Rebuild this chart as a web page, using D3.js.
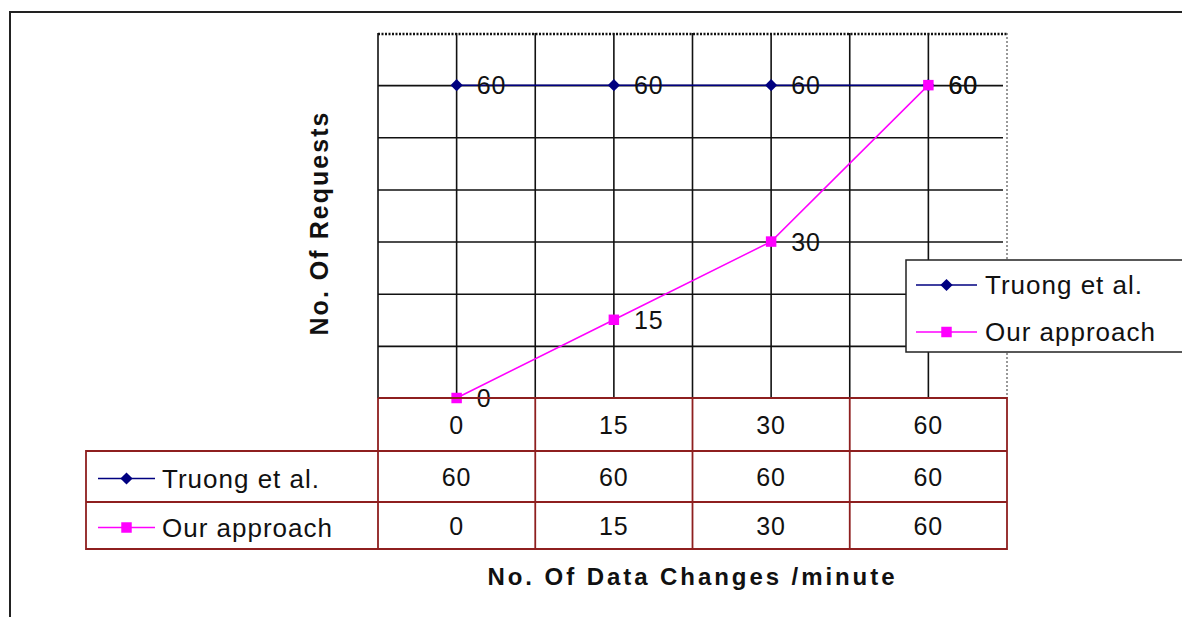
<!DOCTYPE html>
<html>
<head>
<meta charset="utf-8">
<script src="https://cdn.jsdelivr.net/npm/d3@7"></script>
<style>
  body { margin: 0; background: #fff; }
  text { font-family: "Liberation Sans", Arial, sans-serif; fill: #111; }
</style>
</head>
<body>
<div id="chart"></div>
<script>
// values
var categories = ["0", "15", "30", "60"];
var truongValues = [60, 60, 60, 60];
var ourValues = [0, 15, 30, 60];
var seriesNames = ["Truong et al.", "Our approach"];
var gridValues = [0, 10, 20, 30, 40, 50, 60, 70];

var W = 1182, H = 617;
var pLeft = 378, pRight = 1007, pTop = 33, pBottom = 398;
var rowH = [53, 51, 47];
var tableLeft = 86;
var red = "#8e1f1f";
var navy = "#000080", pink = "#ff00ff";

var svg = d3.select("#chart").append("svg")
  .attr("width", W).attr("height", H);

// outer frame
svg.append("path")
  .attr("d", "M10," + H + "V12H" + W)
  .attr("fill", "none").attr("stroke", "#222").attr("stroke-width", 2);

var x = d3.scaleBand().domain(categories).range([pLeft, pRight]);
var y = d3.scaleLinear().domain([0, 70]).range([pBottom, pTop]);
var cx = function(d) { return x(d) + x.bandwidth() / 2; };

// horizontal grid
svg.append("g")
  .attr("transform", "translate(" + pLeft + ",0)")
  .call(d3.axisLeft(y).tickValues(gridValues.slice(1, -1)).tickSize(-(pRight - pLeft - 4)).tickFormat(""))
  .call(function(g) {
    g.select(".domain").remove();
    g.selectAll("line").attr("stroke", "#111").attr("stroke-width", 1.6);
  });

// vertical grid: band edges and centres
var vx = [];
categories.forEach(function(c, i) { if (i > 0) vx.push(x(c)); vx.push(cx(c)); });
svg.append("g").selectAll("line").data(vx).join("line")
  .attr("x1", function(d) { return d; }).attr("x2", function(d) { return d; })
  .attr("y1", pTop).attr("y2", pBottom)
  .attr("stroke", "#111").attr("stroke-width", 1.6);

// plot frame
svg.append("line").attr("x1", pLeft).attr("x2", pLeft).attr("y1", pTop).attr("y2", pBottom)
  .attr("stroke", "#111").attr("stroke-width", 1.6);
svg.append("line").attr("x1", pLeft).attr("x2", pRight).attr("y1", pTop + 1).attr("y2", pTop + 1)
  .attr("stroke", "#111").attr("stroke-width", 2.5).attr("stroke-dasharray", "2,1.5");
svg.append("line").attr("x1", pRight).attr("x2", pRight).attr("y1", pTop).attr("y2", pBottom)
  .attr("stroke", "#555").attr("stroke-width", 1.2).attr("stroke-dasharray", "2,2");

// series
var series = [
  { name: seriesNames[0], values: truongValues, color: navy, shape: d3.symbolSquare, size: 75, rot: 45 },
  { name: seriesNames[1], values: ourValues, color: pink, shape: d3.symbolSquare, size: 110, rot: 0 }
];

var line = d3.line()
  .x(function(d, i) { return cx(categories[i]); })
  .y(function(d) { return y(d); });

series.forEach(function(s) {
  svg.append("path").datum(s.values)
    .attr("d", line).attr("fill", "none")
    .attr("stroke", s.color).attr("stroke-width", 1.5);
});
series.forEach(function(s) {
  svg.append("g").selectAll("path").data(s.values).join("path")
    .attr("transform", function(d, i) {
      return "translate(" + cx(categories[i]) + "," + y(d) + ") rotate(" + s.rot + ")";
    })
    .attr("d", d3.symbol().type(s.shape).size(s.size))
    .attr("fill", s.color);
  svg.append("g").selectAll("text").data(s.values).join("text")
    .attr("x", function(d, i) { return cx(categories[i]) + 20; })
    .attr("y", function(d) { return y(d) + 9; })
    .attr("font-size", 25).attr("letter-spacing", 1)
    .text(function(d) { return d; });
});

// data table
var tTop = pBottom, r1 = pBottom + rowH[0], r2 = r1 + rowH[1], tBot = r2 + rowH[2];
var tbl = svg.append("g").attr("stroke", red).attr("stroke-width", 1.8).attr("fill", "none");
tbl.append("path").attr("d",
  "M" + pLeft + "," + tTop + "H" + pRight + "V" + tBot + "H" + tableLeft + "V" + r1 + "H" + pRight +
  "M" + tableLeft + "," + r2 + "H" + pRight + "M" + pLeft + "," + tTop + "V" + tBot);
tbl.selectAll("line.col").data(categories.slice(1)).join("line")
  .attr("x1", function(d) { return x(d); }).attr("x2", function(d) { return x(d); })
  .attr("y1", tTop).attr("y2", tBot);

var rowCenters = [(tTop + r1) / 2, (r1 + r2) / 2, (r2 + tBot) / 2];
var rows = [categories, truongValues, ourValues];
rows.forEach(function(vals, ri) {
  svg.append("g").selectAll("text").data(vals).join("text")
    .attr("x", function(d, i) { return cx(categories[i]); })
    .attr("y", rowCenters[ri] + 9)
    .attr("text-anchor", "middle")
    .attr("font-size", 25).attr("letter-spacing", 1)
    .text(function(d) { return d; });
});

// legend keys (table and legend box)
function key(g, s, x0, yc, len) {
  g.append("line").attr("x1", x0).attr("x2", x0 + len).attr("y1", yc).attr("y2", yc)
    .attr("stroke", s.color).attr("stroke-width", 1.5);
  g.append("path").attr("transform", "translate(" + (x0 + len / 2) + "," + yc + ") rotate(" + s.rot + ")")
    .attr("d", d3.symbol().type(s.shape).size(s.size)).attr("fill", s.color);
}
series.forEach(function(s, i) {
  var yc = rowCenters[i + 1] + 2;
  key(svg, s, 98, yc, 57);
  svg.append("text").attr("x", 162).attr("y", yc + 9).attr("font-size", 26)
    .attr("letter-spacing", 1).text(s.name);
});

var leg = svg.append("g");
leg.append("rect").attr("x", 906).attr("y", 260).attr("width", 290).attr("height", 92)
  .attr("fill", "#fff").attr("stroke", "#222").attr("stroke-width", 1.5);
series.forEach(function(s, i) {
  var yc = 285 + i * 47;
  key(leg, s, 916, yc, 61);
  leg.append("text").attr("x", 985).attr("y", yc + 9).attr("font-size", 26)
    .attr("letter-spacing", 1).text(s.name);
});

// axis titles
svg.append("text")
  .attr("x", 691).attr("y", 585).attr("text-anchor", "middle")
  .attr("font-size", 24).attr("font-weight", "bold")
  .attr("textLength", 407).attr("lengthAdjust", "spacing")
  .text("No. Of Data Changes /minute");
svg.append("text")
  .attr("transform", "translate(328,224) rotate(-90)")
  .attr("text-anchor", "middle")
  .attr("font-size", 25).attr("font-weight", "bold")
  .attr("textLength", 223).attr("lengthAdjust", "spacing")
  .text("No.  Of Requests");
</script>
</body>
</html>
